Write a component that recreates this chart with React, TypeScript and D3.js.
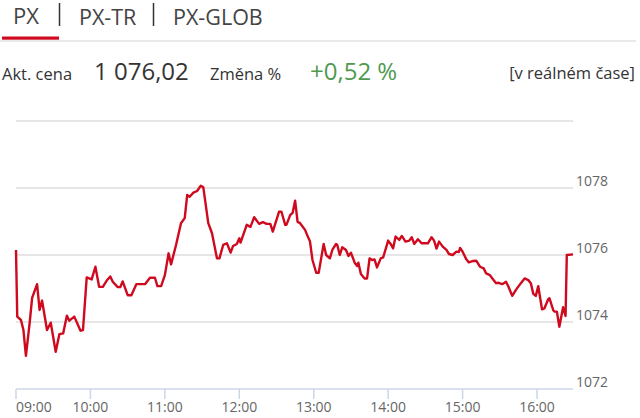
import React, { useEffect } from 'react';
import * as d3 from 'd3';

// ---- data ----
const tabs = ['PX', 'PX-TR', 'PX-GLOB'];
const priceLabel = 'Akt. cena';
const priceValue = '1 076,02';
const changeLabel = 'Změna %';
const changeValue = '+0,52 %';
const realtimeLabel = '[v reálném čase]';

const times = [
  '09:00', '09:01', '09:04', '09:06', '09:08', '09:11', '09:13', '09:17', '09:19', '09:21',
  '09:25', '09:28', '09:32', '09:35', '09:38', '09:41', '09:43', '09:47', '09:52', '09:54',
  '09:57', '10:01', '10:04', '10:07', '10:10', '10:13', '10:16', '10:18', '10:22', '10:24',
  '10:26', '10:30', '10:33', '10:37', '10:44', '10:48', '10:52', '10:54', '10:57', '11:00',
  '11:03', '11:05', '11:09', '11:13', '11:16', '11:18', '11:20', '11:23', '11:26', '11:29',
  '11:31', '11:35', '11:38', '11:42', '11:44', '11:47', '11:50', '11:53', '11:55', '11:58',
  '12:00', '12:01', '12:06', '12:09', '12:12', '12:16', '12:19', '12:22', '12:25', '12:27',
  '12:32', '12:34', '12:37', '12:38', '12:41', '12:43', '12:45', '12:47', '12:49', '12:53',
  '12:55', '12:57', '12:59', '13:02', '13:04', '13:08', '13:10', '13:13', '13:15', '13:18',
  '13:19', '13:21', '13:23', '13:26', '13:28', '13:30', '13:33', '13:35', '13:36', '13:38',
  '13:41', '13:43', '13:45', '13:47', '13:49', '13:51', '13:54', '13:56', '14:00', '14:02',
  '14:04', '14:06', '14:09', '14:11', '14:14', '14:17', '14:19', '14:21', '14:24', '14:27',
  '14:32', '14:35', '14:37', '14:39', '14:41', '14:44', '14:47', '14:49', '14:52', '14:55',
  '14:57', '14:58', '15:00', '15:03', '15:05', '15:08', '15:11', '15:14', '15:17', '15:19',
  '15:22', '15:24', '15:27', '15:29', '15:32', '15:35', '15:37', '15:40', '15:43', '15:47',
  '15:50', '15:53', '15:55', '15:57', '15:59', '16:01', '16:04', '16:06', '16:09', '16:10',
  '16:13', '16:14', '16:16', '16:18', '16:21', '16:23', '16:24', '16:29',
];

const prices = [
  1076.15, 1074.16, 1074.06, 1073.76, 1072.99, 1073.97, 1074.72, 1075.13, 1074.36, 1074.64,
  1073.76, 1073.98, 1073.11, 1073.64, 1073.66, 1074.19, 1074.04, 1074.16, 1073.74, 1073.76,
  1075.33, 1075.27, 1075.65, 1075.05, 1075.05, 1075.23, 1075.36, 1075.20, 1075.04, 1075.04,
  1075.21, 1074.80, 1074.80, 1075.13, 1075.13, 1075.32, 1075.32, 1075.07, 1075.07, 1075.40,
  1076.05, 1075.72, 1076.30, 1076.95, 1077.10, 1077.79, 1077.74, 1077.86, 1077.91, 1078.07,
  1078.02, 1076.95, 1076.65, 1075.90, 1075.90, 1076.30, 1076.35, 1076.07, 1076.27, 1076.33,
  1076.50, 1076.37, 1076.90, 1076.84, 1077.13, 1076.93, 1076.98, 1076.93, 1076.93, 1076.70,
  1077.29, 1077.29, 1076.90, 1076.90, 1077.19, 1077.26, 1077.62, 1076.99, 1076.95, 1076.75,
  1076.57, 1076.40, 1075.85, 1075.47, 1075.47, 1076.33, 1076.00, 1075.90, 1076.15, 1076.33,
  1076.30, 1076.00, 1076.23, 1076.15, 1075.97, 1076.07, 1075.77, 1075.67, 1075.77, 1075.43,
  1075.30, 1075.30, 1075.90, 1075.85, 1075.87, 1075.63, 1075.90, 1075.93, 1076.43, 1076.33,
  1076.20, 1076.55, 1076.45, 1076.57, 1076.40, 1076.43, 1076.53, 1076.33, 1076.47, 1076.35,
  1076.35, 1076.53, 1076.43, 1076.19, 1076.40, 1076.25, 1076.15, 1076.03, 1076.00, 1076.10,
  1076.09, 1076.21, 1076.10, 1075.87, 1075.78, 1075.82, 1075.83, 1075.65, 1075.60, 1075.45,
  1075.40, 1075.30, 1075.16, 1075.17, 1075.13, 1075.20, 1075.05, 1074.78, 1074.96, 1075.16,
  1075.30, 1075.25, 1075.16, 1074.84, 1074.78, 1075.07, 1074.38, 1074.41, 1074.68, 1074.71,
  1074.36, 1074.31, 1074.31, 1073.86, 1074.44, 1074.18, 1076.00, 1076.02,
];

const yTickValues = [1072, 1074, 1076, 1078];
const yGridValues = [1074, 1076, 1078, 1080];
const yDomain = [1072, 1080];
const xTickLabels = ['09:00', '10:00', '11:00', '12:00', '13:00', '14:00', '15:00', '16:00'];

// ---- layout ----
const W = 640;
const H = 418;
const plotLeft = 16;
const plotRight = 573;
const plotTop = 121;
const plotBottom = 389;
const FONT = "'Open Sans', 'Noto Sans', sans-serif";
const RED = '#cf0a1f';

const parseTime = d3.timeParse('%H:%M');

export default function App() {
  useEffect(() => {
    document.body.style.margin = '0';
  }, []);

  const data = times.map((t, i) => ({ t: parseTime(t) as Date, v: prices[i] }));

  const x = d3
    .scaleTime()
    .domain([parseTime(xTickLabels[0]) as Date, data[data.length - 1].t])
    .range([plotLeft, plotRight]);

  const y = d3.scaleLinear().domain(yDomain).range([plotBottom, plotTop]);

  const line = d3
    .line<{ t: Date; v: number }>()
    .x((d) => x(d.t))
    .y((d) => y(d.v));

  const tabX = [13, 79, 173];
  const tabSize = [22, 21.5, 21.5];
  const tabBase = [24, 25, 25];

  return (
    <svg
      width={W}
      height={H}
      style={{ position: 'absolute', left: 0, top: 0, display: 'block' }}
      fontFamily={FONT}
    >
      <rect x={0} y={0} width={W} height={H} fill="#fff" />

      {/* tabs */}
      {tabs.map((t, i) => (
        <text key={t} x={tabX[i]} y={tabBase[i]} fontSize={tabSize[i]} fill="#444">
          {t}
        </text>
      ))}
      <line x1={59.5} x2={59.5} y1={3} y2={26} stroke="#333" strokeWidth={1.5} />
      <line x1={153.5} x2={153.5} y1={3} y2={26} stroke="#333" strokeWidth={1.5} />
      <line x1={0} x2={636} y1={41} y2={41} stroke="#e2e2e2" strokeWidth={1.5} />
      <rect x={2} y={36.5} width={57} height={3.2} fill={RED} />

      {/* price row */}
      <text x={2} y={80} fontSize={16.5} fill="#333">{priceLabel}</text>
      <text x={94} y={80} fontSize={24} fill="#333">{priceValue}</text>
      <text x={210} y={80} fontSize={16.5} fill="#333">{changeLabel}</text>
      <text x={310} y={80} fontSize={24} fill="#4f9a4f">{changeValue}</text>
      <text x={635} y={79} fontSize={16.5} fill="#333" textAnchor="end">{realtimeLabel}</text>

      {/* grid */}
      {yGridValues.map((v) => (
        <line
          key={v}
          x1={plotLeft}
          x2={plotRight}
          y1={y(v)}
          y2={y(v)}
          stroke="#dedede"
          strokeWidth={1.5}
        />
      ))}

      {/* y labels */}
      {yTickValues.map((v) => (
        <text key={v} x={plotRight + 3} y={y(v) - 2} fontSize={14} fill="#666">
          {v}
        </text>
      ))}

      {/* x axis */}
      <line x1={plotLeft} x2={plotRight} y1={plotBottom} y2={plotBottom} stroke="#ccd6eb" strokeWidth={1.5} />
      {xTickLabels.map((lab, i) => {
        const px = x(parseTime(lab) as Date);
        return (
          <g key={lab}>
            <line x1={px} x2={px} y1={plotBottom} y2={plotBottom + 10} stroke="#ccd6eb" strokeWidth={1.5} />
            <text
              x={px}
              y={412}
              fontSize={14}
              fill="#666"
              textAnchor={i === 0 ? 'start' : 'middle'}
            >
              {lab}
            </text>
          </g>
        );
      })}

      {/* series */}
      <path d={line(data) || ''} fill="none" stroke={RED} strokeWidth={2.4} strokeLinejoin="round" />
    </svg>
  );
}
